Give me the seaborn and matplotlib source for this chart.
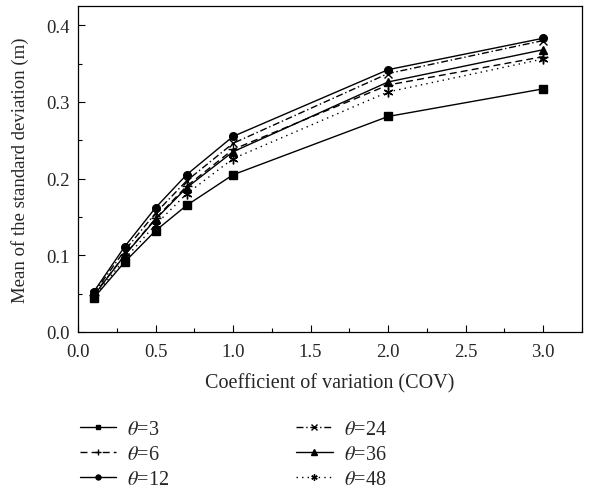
import matplotlib
matplotlib.use("Agg")
import matplotlib.pyplot as plt
import seaborn as sns
import pandas as pd
from matplotlib.ticker import MultipleLocator, FormatStrFormatter

cov = [0.1, 0.3, 0.5, 0.7, 1.0, 2.0, 3.0]
theta3 = [0.044, 0.091, 0.132, 0.165, 0.205, 0.281, 0.317]
theta6 = [0.048, 0.100, 0.148, 0.190, 0.238, 0.322, 0.359]
theta12 = [0.052, 0.111, 0.162, 0.205, 0.255, 0.342, 0.383]
theta24 = [0.050, 0.106, 0.155, 0.197, 0.246, 0.337, 0.380]
theta36 = [0.047, 0.100, 0.147, 0.188, 0.235, 0.326, 0.368]
theta48 = [0.045, 0.095, 0.140, 0.180, 0.226, 0.313, 0.356]

labels = [r"$\theta$=3", r"$\theta$=6", r"$\theta$=12",
          r"$\theta$=24", r"$\theta$=36", r"$\theta$=48"]
series = [theta3, theta6, theta12, theta24, theta36, theta48]

sns.set_theme(style="ticks")
plt.rcParams["font.family"] = ["Liberation Serif", "DejaVu Serif"]
plt.rcParams["mathtext.fontset"] = "stix"

styles = [
    dict(marker="s", linestyle="-", markersize=5.5),
    dict(marker="+", linestyle=(0, (5, 3)), markersize=7),
    dict(marker="o", linestyle="-", markersize=5.5),
    dict(marker="x", linestyle=(0, (5, 2, 1, 2)), markersize=6),
    dict(marker="^", linestyle="-", markersize=6),
    dict(marker=(6, 2, 0), linestyle=(0, (1, 3)), markersize=7),
]

fig = plt.figure(figsize=(5.9, 4.89), dpi=100)
ax = fig.add_axes([78 / 590, 1 - 333 / 489, (582 - 78) / 590, (333 - 7) / 489])

for lab, vals, st in zip(labels, series, styles):
    d = pd.DataFrame({"COV": cov, "mean": vals})
    sns.lineplot(data=d, x="COV", y="mean", ax=ax, color="black",
                 linewidth=1.0, markeredgecolor="black", markerfacecolor="black",
                 markeredgewidth=1.0, label=lab, **st)

ax.set_xlim(0, 3.25)
ax.set_ylim(0, 0.425)
ax.xaxis.set_major_locator(MultipleLocator(0.5))
ax.xaxis.set_minor_locator(MultipleLocator(0.25))
ax.yaxis.set_major_locator(MultipleLocator(0.1))
ax.yaxis.set_minor_locator(MultipleLocator(0.05))
ax.xaxis.set_major_formatter(FormatStrFormatter("%.1f"))
ax.yaxis.set_major_formatter(FormatStrFormatter("%.1f"))
ax.tick_params(which="both", direction="in", top=False, right=False,
               labelsize=13.5, color="black", width=0.8)
ax.tick_params(which="major", length=5)
ax.tick_params(which="minor", length=3)
ax.tick_params(axis="x", which="major", pad=8)
ax.tick_params(axis="y", which="major", pad=6)
for s in ax.spines.values():
    s.set_color("black")
    s.set_linewidth(0.9)
ax.set_xlabel("Coefficient of variation (COV)", fontsize=14.5, labelpad=9)
ax.set_ylabel("Mean of the standard deviation (m)", fontsize=13.5, labelpad=12)

handles, labs = ax.get_legend_handles_labels()
ax.legend(handles, labs, ncol=2, loc="upper left",
          bbox_to_anchor=(80 / 590, 1 - 421 / 489), bbox_transform=fig.transFigure,
          frameon=False, fontsize=14.5, handlelength=1.8, columnspacing=6.3,
          labelspacing=0.3, handletextpad=0.55, borderpad=0, borderaxespad=0,
          markerscale=0.65)

fig.savefig("out.png", dpi=100)
